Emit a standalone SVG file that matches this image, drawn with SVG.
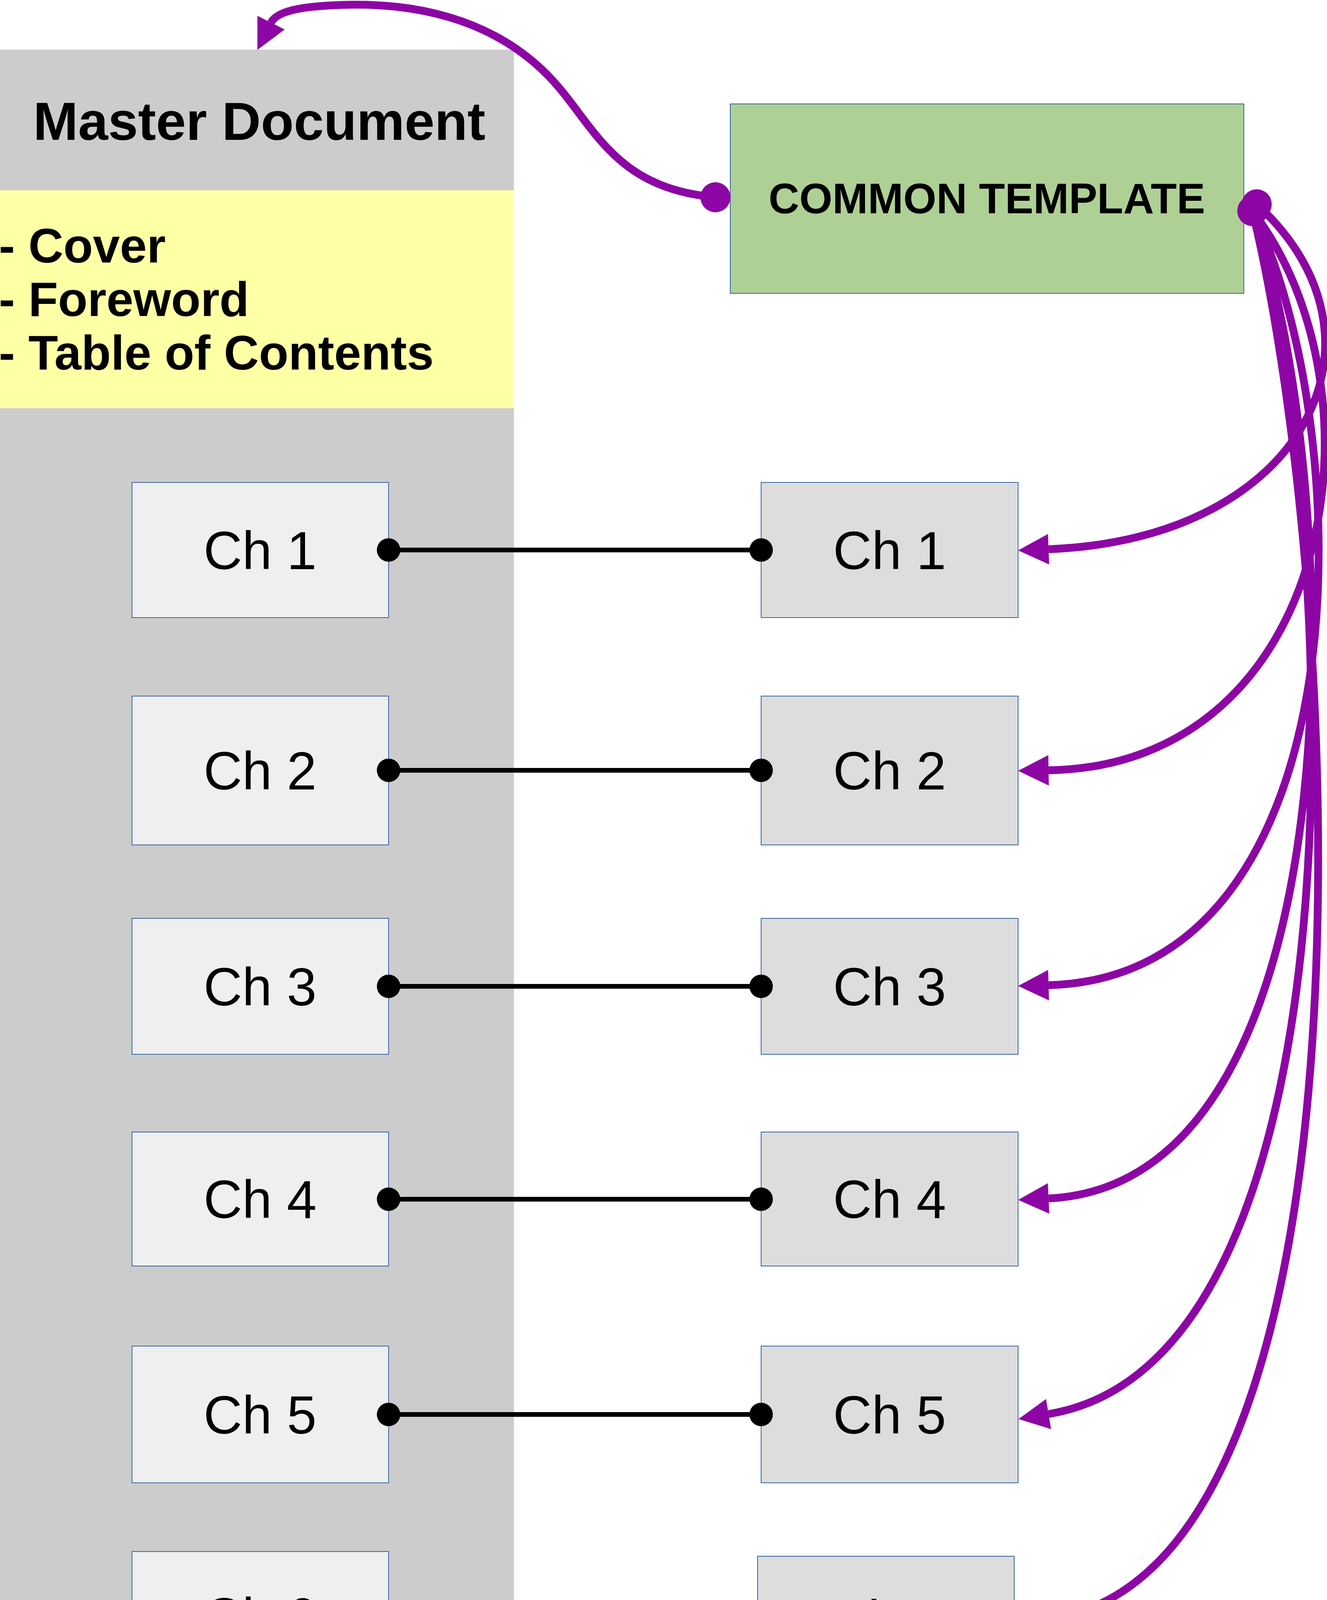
<svg xmlns="http://www.w3.org/2000/svg" width="3398" height="4938" viewBox="0 0 3398 4938">
<style>
.txt{font-family:"Liberation Sans",Arial,sans-serif;fill:#000}
.b{font-weight:bold}
.ch{font-size:137px;text-anchor:middle}
.list{font-size:124px;font-weight:bold}
.boxl{fill:#efefef;stroke:#3465a4;stroke-width:2}
.boxr{fill:#dddddd;stroke:#3465a4;stroke-width:2}
.link{fill:none;stroke:#000;stroke-width:12;marker-start:url(#dot);marker-end:url(#dot)}
.tpl{fill:none;stroke:#8d05a5;stroke-width:20;marker-start:url(#pdot);marker-end:url(#arrow)}
</style>
<defs>
<marker id="dot" markerUnits="userSpaceOnUse" markerWidth="60" markerHeight="60" refX="0" refY="0" overflow="visible"><circle r="30" fill="#000"/></marker>
<marker id="pdot" markerUnits="userSpaceOnUse" markerWidth="80" markerHeight="80" refX="0" refY="0" overflow="visible"><circle r="38.5" fill="#8d05a5"/></marker>
<marker id="arrow" markerUnits="userSpaceOnUse" markerWidth="80" markerHeight="80" refX="0" refY="0" orient="auto" overflow="visible"><path d="M0,-39 L78,0 L0,39 Z" fill="#8d05a5"/></marker>
</defs>
<rect x="0" y="0" width="3398" height="4938" fill="#ffffff"/>

<g id="master-document">
<rect x="0" y="127" width="1316" height="361" fill="#cccccc"/>
<rect x="0" y="487" width="1316" height="558" fill="#ffffa6"/>
<rect x="0" y="1045" width="1316" height="3410" fill="#cccccc"/>
<rect x="0" y="4455" width="1316" height="483" fill="#ffffa6"/>
<text class="txt b" x="664" y="358" font-size="138" text-anchor="middle">Master Document</text>
<text class="txt list" x="-3" y="672">- Cover</text>
<text class="txt list" x="-3" y="809">- Foreword</text>
<text class="txt list" x="-3" y="946">- Table of Contents</text>
<text class="txt list" x="0" y="4600">- Indexes</text>
<text class="txt list" x="0" y="4737">- Bibliography</text>
<text class="txt list" x="0" y="4873">- Back cover</text>
</g>

<g id="master-ch1"><rect class="boxl" x="338" y="1235" width="657" height="346"/><text class="txt ch" x="666" y="1457">Ch 1</text></g>
<g id="master-ch2"><rect class="boxl" x="338" y="1782" width="657" height="381"/><text class="txt ch" x="666" y="2021">Ch 2</text></g>
<g id="master-ch3"><rect class="boxl" x="338" y="2351" width="657" height="348"/><text class="txt ch" x="666" y="2574">Ch 3</text></g>
<g id="master-ch4"><rect class="boxl" x="338" y="2898" width="657" height="343"/><text class="txt ch" x="666" y="3118">Ch 4</text></g>
<g id="master-ch5"><rect class="boxl" x="338" y="3446" width="657" height="350"/><text class="txt ch" x="666" y="3670">Ch 5</text></g>
<g id="master-ch6"><rect class="boxl" x="338" y="3972" width="657" height="333"/><text class="txt ch" x="666" y="4187">Ch 6</text></g>

<g id="common-template">
<rect x="1870" y="266" width="1315" height="485" fill="#afd095" stroke="#3465a4" stroke-width="2"/>
<text class="txt b" x="2527" y="546" font-size="109" text-anchor="middle">COMMON TEMPLATE</text>
</g>

<g id="file-ch1"><rect class="boxr" x="1949" y="1235" width="658" height="346"/><text class="txt ch" x="2278" y="1457">Ch 1</text></g>
<g id="file-ch2"><rect class="boxr" x="1949" y="1782" width="658" height="381"/><text class="txt ch" x="2278" y="2021">Ch 2</text></g>
<g id="file-ch3"><rect class="boxr" x="1949" y="2351" width="658" height="348"/><text class="txt ch" x="2278" y="2574">Ch 3</text></g>
<g id="file-ch4"><rect class="boxr" x="1949" y="2898" width="658" height="343"/><text class="txt ch" x="2278" y="3118">Ch 4</text></g>
<g id="file-ch5"><rect class="boxr" x="1949" y="3446" width="658" height="350"/><text class="txt ch" x="2278" y="3670">Ch 5</text></g>
<g id="file-ch6"><rect class="boxr" x="1940" y="3984" width="657" height="321"/><text class="txt ch" x="2268" y="4193">Ch 6</text></g>

<g id="label-individual">
<text class="txt b" x="2374" y="4694" font-size="137" text-anchor="middle">Individual chapters</text>
</g>

<g id="connectors">
<path class="link" d="M995,1408 H1949"/>
<path class="link" d="M995,1972 H1949"/>
<path class="link" d="M995,2525 H1949"/>
<path class="link" d="M995,3070 H1949"/>
<path class="link" d="M995,3621 H1949"/>
<polyline class="link" points="995,4138 1469,4138 1469,4145 1940,4145"/>
<path class="tpl" d="M1832,505 C1560,480 1520,310 1400,190 C1250,40 1050,10 900,12 C800,14 712,22 694,58"/>
<path class="tpl" d="M3218,523 C3590,860 3350,1380 2685,1406"/>
<path class="tpl" d="M3207,540 C3560,1000 3420,1960 2685,1972"/>
<path class="tpl" d="M3207,540 C3480,1100 3500,2500 2685,2522"/>
<path class="tpl" d="M3207,540 C3440,1200 3500,3030 2685,3068"/>
<path class="tpl" d="M3207,540 C3420,1300 3530,3480 2685,3620"/>
<path class="tpl" d="M3207,540 C3440,1500 3560,4050 2676,4145"/>
</g>
</svg>
